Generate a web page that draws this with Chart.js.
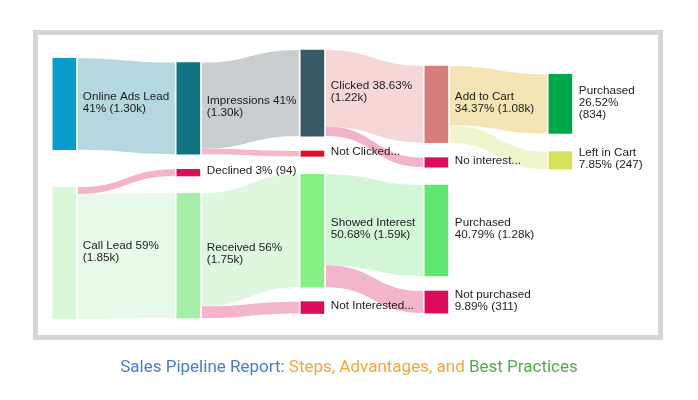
<!DOCTYPE html>
<html>
<head>
<meta charset="utf-8">
<script src="https://cdn.jsdelivr.net/npm/chart.js@4"></script>
<style>
  html, body { margin: 0; padding: 0; background: #fff; }
  #wrap { position: relative; width: 698px; height: 400px; overflow: hidden; }
  #frame {
    position: absolute; left: 33px; top: 30px; width: 630px; height: 310px;
    box-sizing: border-box; border: 5px solid #d5d5d5;
  }
  #sankey { position: absolute; left: 0; top: 0; }
  #title {
    position: absolute; left: 0; top: 356px; width: 698px; text-align: center;
    font: 17px Roboto, "Liberation Sans", sans-serif; line-height: 20px;
  }
  .t1 { color: #4a79d4; }
  .t2 { color: #f1a73a; }
  .t3 { color: #58a84d; }
</style>
</head>
<body>
<div id="wrap">
  <div id="frame"></div>
  <canvas id="sankey" width="698" height="400"></canvas>
  <div id="title"><span class="t1">Sales Pipeline Report:</span> <span class="t2">Steps, Advantages, and</span> <span class="t3">Best Practices</span></div>
</div>
<script>
// SALES PIPELINE SANKEY

// nodes
const nodeNames = ['Online Ads Lead', 'Call Lead', 'Impressions', 'Declined', 'Received',
  'Clicked', 'Not Clicked', 'Showed Interest', 'Not Interested',
  'Add to Cart', 'No interest', 'Purchased', 'Not purchased',
  'Purchased', 'Left in Cart'];
const nodeColumns = [0, 0, 1, 1, 1, 2, 2, 2, 2, 3, 3, 3, 3, 4, 4];
const nodeValues = [1290, 1855, 1290, 94, 1761, 1215, 75, 1594, 167, 1081, 134, 1283, 311, 834, 247];
const nodeLabels = [
  ['Online Ads Lead', '41% (1.30k)'],
  ['Call Lead 59%', '(1.85k)'],
  ['Impressions 41%', '(1.30k)'],
  ['Declined 3% (94)'],
  ['Received 56%', '(1.75k)'],
  ['Clicked 38.63%', '(1.22k)'],
  ['Not Clicked...'],
  ['Showed Interest', '50.68% (1.59k)'],
  ['Not Interested...'],
  ['Add to Cart', '34.37% (1.08k)'],
  ['No interest...'],
  ['Purchased', '40.79% (1.28k)'],
  ['Not purchased', '9.89% (311)'],
  ['Purchased', '26.52%', '(834)'],
  ['Left in Cart', '7.85% (247)']
];

// links
const linkFrom = [0, 1, 1, 2, 2, 4, 4, 5, 5, 7, 7, 9, 9];
const linkTo = [2, 3, 4, 5, 6, 7, 8, 9, 10, 11, 12, 13, 14];
const linkValues = [1290, 94, 1761, 1215, 75, 1594, 167, 1081, 134, 1283, 311, 834, 247];

// layout: where each node starts in its column (value units)
const nodeTop = [117, 1937, 179, 1683, 2021, 0, 1425, 1753, 3550, 226, 1519, 1904, 3400, 343, 1434];

const nodeColors = ['#0a9ccb', '#d9f7d9', '#0f7380', '#dc0b5b', '#a6eea6',
  '#3a5966', '#e50f25', '#86ef86', '#dc0b5b',
  '#d97c7c', '#dc0b5b', '#5ee86f', '#dc0b5b', '#00a84a', '#d6e35a'];
const linkColors = ['#b4d8dd', '#f4b3c9', '#e8f9e8', '#c9cdcf', '#f7b5c5',
  '#dff7df', '#f3b5cc', '#f7d6d6', '#f2b3ca', '#d3f6d8', '#f2b5cb', '#f5e5b5', '#f1f5cd'];

const NODE_W = 23;

const flowPlugin = {
  id: 'flows',
  beforeDatasetsDraw(chart) {
    const { ctx, scales: { x, y } } = chart;
    const outUsed = nodeValues.map(() => 0);
    const inUsed = nodeValues.map(() => 0);
    ctx.save();
    linkFrom.forEach((s, i) => {
      const t = linkTo[i];
      const v = linkValues[i];
      const x0 = x.getPixelForValue(nodeColumns[s]) + NODE_W / 2 + 2;
      const x1 = x.getPixelForValue(nodeColumns[t]) - NODE_W / 2 - 2;
      const s0 = y.getPixelForValue(nodeTop[s] + outUsed[s]);
      const s1 = y.getPixelForValue(nodeTop[s] + outUsed[s] + v);
      const t0 = y.getPixelForValue(nodeTop[t] + inUsed[t]);
      const t1 = y.getPixelForValue(nodeTop[t] + inUsed[t] + v);
      outUsed[s] += v;
      inUsed[t] += v;
      const xm = (x0 + x1) / 2;
      ctx.beginPath();
      ctx.moveTo(x0, s0);
      ctx.bezierCurveTo(xm, s0, xm, t0, x1, t0);
      ctx.lineTo(x1, t1);
      ctx.bezierCurveTo(xm, t1, xm, s1, x0, s1);
      ctx.closePath();
      ctx.fillStyle = linkColors[i];
      ctx.fill();
    });
    ctx.restore();
  },
  afterDatasetsDraw(chart) {
    const { ctx, scales: { x, y } } = chart;
    ctx.save();
    ctx.font = '11.7px "Liberation Sans", Arial, sans-serif';
    ctx.fillStyle = '#1c1c1c';
    ctx.textBaseline = 'middle';
    ctx.textAlign = 'left';
    nodeLabels.forEach((lines, i) => {
      const lx = x.getPixelForValue(nodeColumns[i]) + NODE_W / 2 + 7;
      const cy = (y.getPixelForValue(nodeTop[i]) + y.getPixelForValue(nodeTop[i] + nodeValues[i])) / 2 - 1.5;
      const startY = cy - (lines.length - 1) * 12 / 2;
      lines.forEach((ln, j) => ctx.fillText(ln, lx, startY + j * 12));
    });
    ctx.restore();
  }
};

new Chart(document.getElementById('sankey').getContext('2d'), {
  type: 'bar',
  data: {
    labels: nodeNames,
    datasets: [{
      data: nodeValues.map((v, i) => ({ x: nodeColumns[i], y: [nodeTop[i], nodeTop[i] + v] })),
      backgroundColor: nodeColors,
      borderWidth: 0,
      barThickness: NODE_W
    }]
  },
  options: {
    responsive: false,
    devicePixelRatio: 1,
    animation: false,
    layout: { padding: 0 },
    plugins: { legend: { display: false }, tooltip: { enabled: false } },
    scales: {
      x: { type: 'linear', min: -0.519, max: 5.11, offset: false, display: false },
      y: { type: 'linear', min: -705, max: 4937, reverse: true, display: false }
    }
  },
  plugins: [flowPlugin]
});
</script>
</body>
</html>
